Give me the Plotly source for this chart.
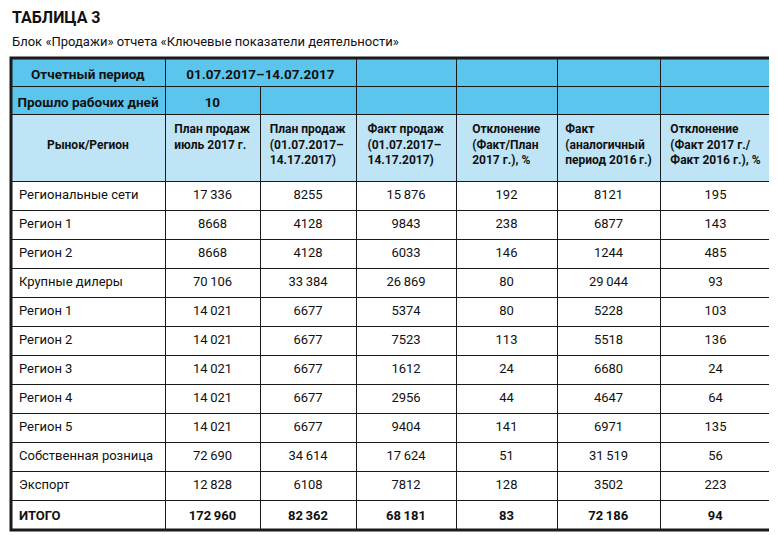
import plotly.graph_objects as go

# data
regions = ["Региональные сети", "Регион 1", "Регион 2", "Крупные дилеры", "Регион 1",
           "Регион 2", "Регион 3", "Регион 4", "Регион 5", "Собственная розница",
           "Экспорт", "ИТОГО"]
plan_july = [17336, 8668, 8668, 70106, 14021, 14021, 14021, 14021, 14021, 72690, 12828, 172960]
plan_period = [8255, 4128, 4128, 33384, 6677, 6677, 6677, 6677, 6677, 34614, 6108, 82362]
fact_period = [15876, 9843, 6033, 26869, 5374, 7523, 1612, 2956, 9404, 17624, 7812, 68181]
dev_plan = [192, 238, 146, 80, 80, 113, 24, 44, 141, 51, 128, 83]
fact_2016 = [8121, 6877, 1244, 29044, 5228, 5518, 6680, 4647, 6971, 31519, 3502, 72186]
dev_2016 = [195, 143, 485, 93, 103, 136, 24, 64, 135, 56, 223, 94]

top_row = ["Отчетный период", "01.07.2017–14.07.2017", "", "", "", ""]
second_row = ["Прошло рабочих дней", "10", "", "", "", "", ""]
col_headers = ["\u00a0<br>Рынок/Регион",
               "План продаж<br>июль 2017 г.",
               "План продаж<br>(01.07.2017–<br>14.17.2017)",
               "Факт продаж<br>(01.07.2017–<br>14.17.2017)",
               "Отклонение<br>(Факт/План<br>2017 г.), %",
               "Факт<br>(аналогичный<br>период 2016\u2009г.)",
               "Отклонение<br>(Факт 2017 г./<br>Факт 2016 г.), %"]

title = "ТАБЛИЦА 3"
subtitle = "Блок «Продажи» отчета «Ключевые показатели деятельности»"

FONT = "Roboto, Liberation Sans, Arial, sans-serif"
OFF = 8  # page margin of the html body
W, H = 777 - OFF, 535 - OFF
CYAN = "#5cc5ee"
LIGHT = "#bfe4f6"
LINE = "#1a1a1a"


def fmt(v):
    if v >= 10000:
        return f"{v:,}".replace(",", "\u2009")
    return str(v)


def col(vals, is_num=True):
    out = [fmt(v) if is_num else v for v in vals]
    out[-1] = "<b>" + out[-1] + "</b>"
    return out


def bold(t):
    return "<b>" + t.replace(" ", "\u00a0") + "</b>" if t else ""


def xd(x0, x1):
    return [(x0 - OFF) / W, (x1 - OFF) / W]


def yd(y0, y1):
    return [1 - (y1 - OFF) / H, 1 - (y0 - OFF) / H]


widths = [154, 95, 96, 100, 101, 103, 111]
widths_top = [154, 191, 100, 101, 103, 111]

fig = go.Figure()

# two top rows as table headers; their empty cell row is hidden under the next table
for row, cw, y0 in [(top_row, widths_top, 58), (second_row, widths, 86)]:
    fig.add_trace(go.Table(
        domain=dict(x=xd(11, 771), y=yd(y0, y0 + 28 + 24)),
        columnwidth=cw,
        header=dict(values=[bold(t) for t in row],
                    fill_color=CYAN, line=dict(color=LINE, width=1),
                    align="center", height=28,
                    font=dict(family=FONT, size=13.5, color="#111")),
        cells=dict(values=[[""] for _ in row], fill_color=CYAN,
                   line=dict(color=LINE, width=1), height=20),
    ))

fig.add_trace(go.Table(
    domain=dict(x=xd(11, 771), y=yd(114, 531)),
    columnwidth=widths,
    header=dict(values=["<b>" + t.replace(" ", "\u00a0") + "</b>" for t in col_headers],
                fill_color=LIGHT, line=dict(color=LINE, width=1),
                align="center", height=67,
                font=dict(family=FONT, size=12, color="#111")),
    cells=dict(values=[col(regions, False), col(plan_july), col(plan_period),
                       col(fact_period), col(dev_plan), col(fact_2016), col(dev_2016)],
               fill_color="white", line=dict(color=LINE, width=1),
               align=["left"] + ["center"] * 6, height=29,
               font=dict(family=FONT, size=13, color="#111")),
))

fig.add_shape(type="rect", xref="paper", yref="paper",
              x0=(11 - OFF) / W, x1=(771 - OFF) / W,
              y0=1 - (530 - OFF) / H, y1=1 - (58 - OFF) / H,
              line=dict(color=LINE, width=3))

fig.add_annotation(text="<b>" + title + "</b>", x=(10 - OFF) / W, y=1 - (17 - OFF) / H,
                   xref="paper", yref="paper", xanchor="left", yanchor="middle",
                   showarrow=False, font=dict(family=FONT, size=16, color="#111"))
fig.add_annotation(text=subtitle, x=(10 - OFF) / W, y=1 - (41 - OFF) / H,
                   xref="paper", yref="paper", xanchor="left", yanchor="middle",
                   showarrow=False, font=dict(family=FONT, size=13, color="#111"))

fig.update_layout(width=W, height=H, margin=dict(l=0, r=0, t=0, b=0),
                  paper_bgcolor="white", plot_bgcolor="white")

fig.write_html("out.html")
